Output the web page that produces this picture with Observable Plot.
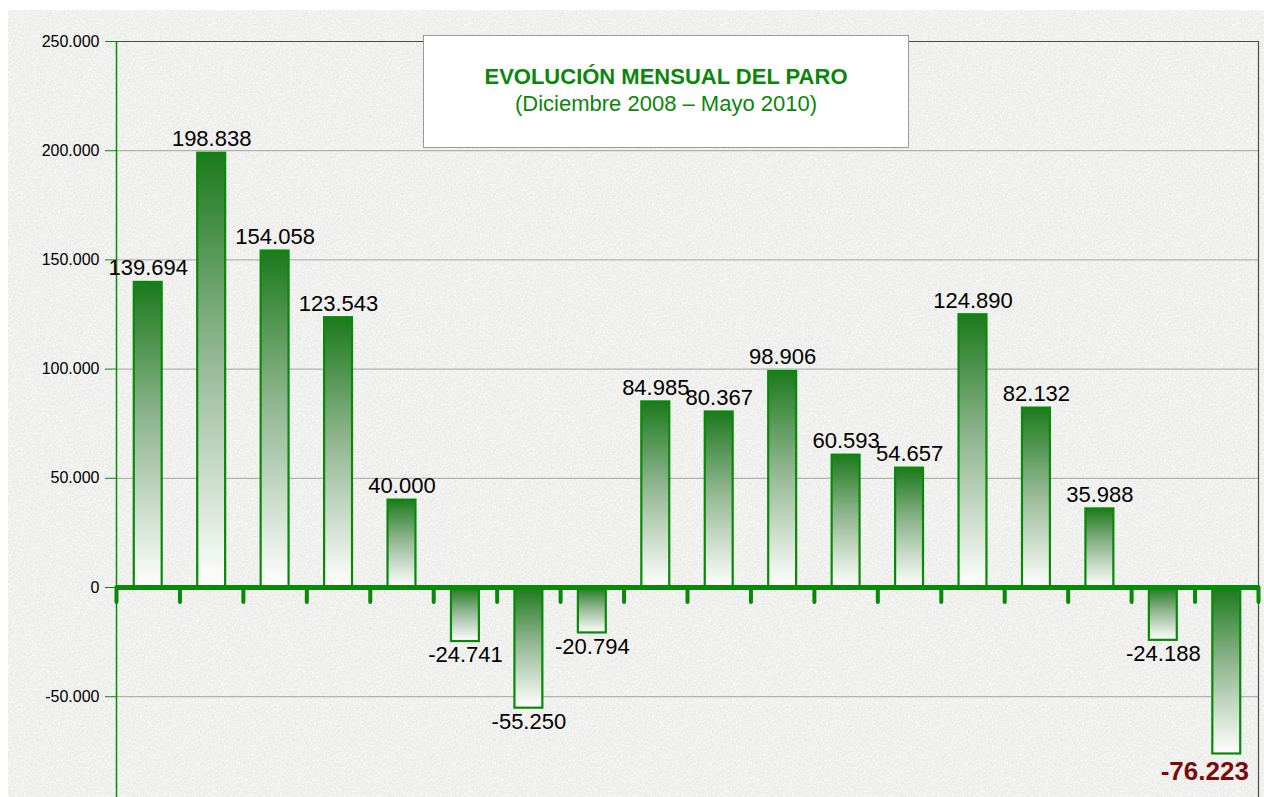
<!DOCTYPE html>
<html>
<head>
<meta charset="utf-8">
<script src="https://cdn.jsdelivr.net/npm/d3@7"></script>
<script src="https://cdn.jsdelivr.net/npm/@observablehq/plot@0.6"></script>
<style>
  html, body { margin: 0; padding: 0; background: #ffffff; width: 1264px; height: 797px; overflow: hidden; }
  #bg {
    position: absolute; left: 8px; top: 10px; width: 1256px; height: 787px;
    background-color: #ebebe9;
    background-image: url("data:image/svg+xml;utf8,<svg xmlns='http://www.w3.org/2000/svg' width='256' height='256'><filter id='n' x='0' y='0'><feTurbulence type='fractalNoise' baseFrequency='0.55' numOctaves='3' stitchTiles='stitch'/><feColorMatrix values='0 0 0 0 1  0 0 0 0 1  0 0 0 0 1  1.6 0 0 0 -0.55'/></filter><rect width='256' height='256' filter='url(%23n)'/></svg>");
  }
  #chart { position: absolute; left: 0; top: 0; }
  #titlebox {
    position: absolute; left: 423px; top: 35px; width: 486px; height: 113px;
    box-sizing: border-box; background: #ffffff; border: 1.5px solid #9a9a9a;
  }
  .t { position: absolute; left: 0; width: 100%; text-align: center; color: #0a860a;
       font-family: "Liberation Sans", Arial, sans-serif; font-size: 22px; line-height: 22px; white-space: nowrap; }
  #t1 { top: 30px; font-weight: bold; }
  #t2 { top: 57px; }
</style>
</head>
<body>
<div id="bg"></div>
<svg width="0" height="0" style="position:absolute">
  <defs>
    <linearGradient id="barGrad" x1="0" y1="0" x2="0" y2="1">
      <stop offset="0%" stop-color="#1c7a1c"/>
      <stop offset="45%" stop-color="#8fb58f"/>
      <stop offset="100%" stop-color="#ffffff"/>
    </linearGradient>
  </defs>
</svg>
<div id="chart"></div>
<div id="titlebox">
  <div class="t" id="t1">EVOLUCIÓN MENSUAL DEL PARO</div>
  <div class="t" id="t2">(Diciembre 2008 – Mayo 2010)</div>
</div>
<script>
const months = ["Dic 2008","Ene 2009","Feb 2009","Mar 2009","Abr 2009","May 2009","Jun 2009","Jul 2009","Ago 2009","Sep 2009","Oct 2009","Nov 2009","Dic 2009","Ene 2010","Feb 2010","Mar 2010","Abr 2010","May 2010"];
const values = [139694, 198838, 154058, 123543, 40000, -24741, -55250, -20794, 84985, 80367, 98906, 60593, 54657, 124890, 82132, 35988, -24188, -76223];
const yTicks = [-50000, 0, 50000, 100000, 150000, 200000, 250000];
const gridTicks = [-50000, 50000, 100000, 150000, 200000];

const data = months.map((m, i) => ({month: m, value: values[i]}));
const last = data[data.length - 1];
const pos = data.filter(d => d.value >= 0);
const neg = data.filter(d => d.value < 0 && d !== last);

const W = 1264, H = 797, mL = 116, mR = 6, mT = 41, mB = 0;
const step = (W - mL - mR) / months.length;
const yMin = -96150, yMax = 250000;
const fmt = v => d3.format(",")(v).replace(/,/g, ".").replace(/\u2212/g, "-");
const green = "#078a07";

const chart = Plot.plot({
  width: W, height: H,
  marginLeft: mL, marginRight: mR, marginTop: mT, marginBottom: mB,
  style: {background: "transparent", fontFamily: "'Liberation Sans', Arial, sans-serif", color: "#000", overflow: "visible"},
  x: {type: "band", domain: months, paddingInner: 0.56, paddingOuter: 0.28, round: false, axis: null},
  y: {domain: [yMin, yMax], axis: null, label: null},
  marks: [
    Plot.gridY(gridTicks, {stroke: "#a3a3a3", strokeOpacity: 1, strokeWidth: 1}),
    Plot.ruleY([yMax], {stroke: "#4a4a4a", strokeWidth: 1.2}),
    Plot.ruleX([months[months.length - 1]], {y1: yMin, y2: yMax, dx: step / 2, stroke: "#4a4a4a", strokeWidth: 1.2}),
    Plot.barY(data, {x: "month", y: "value", fill: "url(#barGrad)", stroke: green, strokeWidth: 2.2}),
    Plot.ruleY([0], {stroke: green, strokeWidth: 5}),
    Plot.ruleX(months, {x: d => d, y1: 0, y2: -6900, dx: -step / 2, stroke: green, strokeWidth: 4, strokeLinecap: "round"}),
    Plot.ruleX([months[months.length - 1]], {y1: 0, y2: -6900, dx: step / 2, stroke: green, strokeWidth: 4, strokeLinecap: "round"}),
    Plot.ruleX([months[0]], {y1: yMin, y2: yMax, dx: -step / 2, stroke: green, strokeWidth: 1.5}),
    Plot.axisY({ticks: yTicks, tickFormat: fmt, tickSize: 11, tickPadding: 6, fontSize: 16, stroke: green, fill: "#000", anchor: "left", label: null}),
    Plot.text(pos, {x: "month", y: "value", text: d => fmt(d.value), lineAnchor: "bottom", dy: -7, fontSize: 22, fill: "#000"}),
    Plot.text(neg, {x: "month", y: "value", text: d => fmt(d.value), lineAnchor: "top", dy: 5, fontSize: 22, fill: "#000"}),
    Plot.text([last], {x: "month", y: "value", text: d => fmt(d.value), lineAnchor: "top", dy: 8, dx: -22, fontSize: 26, fontWeight: "bold", fill: "#7d0a0a"})
  ]
});
document.getElementById("chart").appendChild(chart);
</script>
</body>
</html>
